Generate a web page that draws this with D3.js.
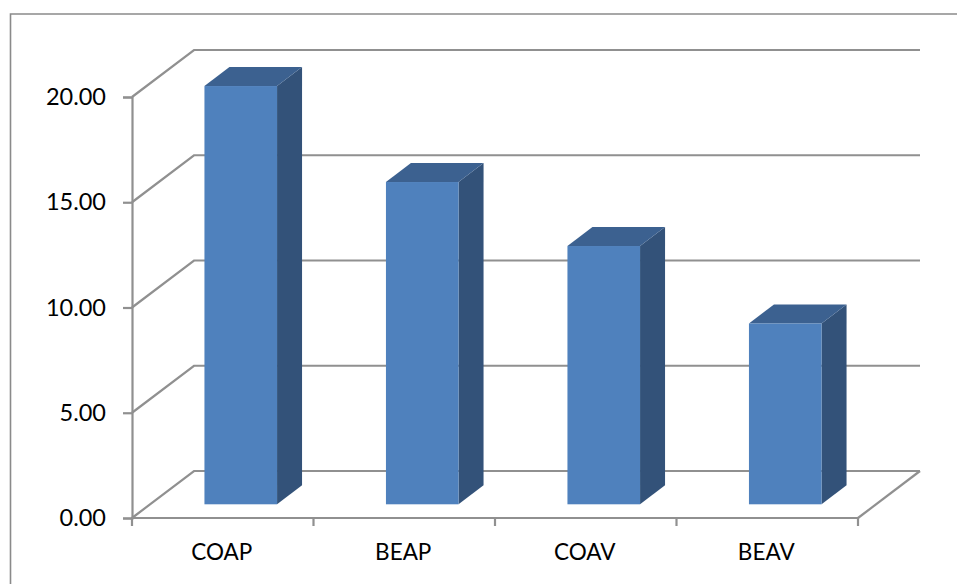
<!DOCTYPE html>
<html>
<head>
<meta charset="utf-8">
<script src="https://cdn.jsdelivr.net/npm/d3@7"></script>
<style>
html,body{margin:0;padding:0;background:#fff;}
svg{display:block;}
text{font-family:Lato,"Open Sans",sans-serif;fill:#000;}
</style>
</head>
<body>
<svg id="chart" width="957" height="584"></svg>
<script>
// Pseudo-3D column chart
const categories = ["COAP", "BEAP", "COAV", "BEAV"];
const values = [19.87, 15.31, 12.27, 8.59];
const yTicks = [0, 5, 10, 15, 20];

const gridColor = "#909090";
const frontColor = "#4f81bd";
const sideColor = "#335279";
const topColor = "#3c6190";

// Floor depth of the plot box and depth of each column
const depth = {dx: 62, dy: -47};
const barInset = {dx: 18, dy: -13.7};
const barDepth = {dx: 25, dy: -19};

const svg = d3.select("#chart");
const x = d3.scaleBand().domain(categories).range([132, 858])
  .paddingInner(0.6).paddingOuter(0.3);
const step = x.step();
const y = d3.scaleLinear().domain([0, 20]).range([518, 97]);

// Outer frame: open at the bottom and running off the right edge
svg.append("path")
  .attr("d", "M10.5,584V14H957")
  .attr("fill", "none").attr("stroke", "#8a8a8a").attr("stroke-width", 1.6);

// Back wall gridlines with their slanted run to the value axis
const grid = svg.append("g").attr("fill", "none")
  .attr("stroke", gridColor).attr("stroke-width", 2.2);
grid.selectAll("path").data(yTicks).join("path")
  .attr("d", d => {
    const x0 = x.range()[0], x1 = x.range()[1];
    return d3.line()([[x0, y(d)], [x0 + depth.dx, y(d) + depth.dy], [x1 + depth.dx, y(d) + depth.dy]]);
  });
// Right edge of the floor
grid.append("path").attr("d", d3.line()([
  [x.range()[1], y(0)], [x.range()[1] + depth.dx, y(0) + depth.dy]
]));

// Value axis
const yAxis = svg.append("g").attr("transform", `translate(${x.range()[0]},0)`)
  .call(d3.axisLeft(y).tickValues(yTicks).tickSize(9).tickPadding(17).tickFormat(d3.format(".2f")));
yAxis.selectAll("line").attr("stroke", gridColor).attr("stroke-width", 2.2);
yAxis.select(".domain").attr("stroke", gridColor).attr("stroke-width", 2.2);
yAxis.selectAll("text").attr("font-size", 23.5).style("font-family", "Lato");

// Category axis: ticks sit between the categories
const xAxisG = svg.append("g").attr("stroke", gridColor).attr("stroke-width", 2.2);
xAxisG.append("line")
  .attr("x1", x.range()[0] - 1).attr("x2", x.range()[1] + 1)
  .attr("y1", y(0)).attr("y2", y(0));
xAxisG.selectAll(".tick").data(d3.range(categories.length + 1)).join("line")
  .attr("class", "tick")
  .attr("x1", i => x.range()[0] + i * step).attr("x2", i => x.range()[0] + i * step)
  .attr("y1", y(0)).attr("y2", y(0) + 8);

svg.append("g").selectAll("text").data(categories).join("text")
  .attr("x", d => x(d) + x.bandwidth() / 2 - 1)
  .attr("y", 560)
  .attr("text-anchor", "middle")
  .attr("font-size", 22.5)
  .text(d => d);

// Columns: side and top faces behind the front face
const bars = svg.append("g").selectAll("g").data(categories.map((c, i) => ({c, v: values[i]}))).join("g");
const left = d => x(d.c) + barInset.dx;
const right = d => left(d) + x.bandwidth();
const base = y(0) + barInset.dy;
const top_ = d => y(d.v) + barInset.dy;

bars.append("path").attr("fill", sideColor)
  .attr("d", d => d3.line()([
    [right(d), top_(d)],
    [right(d) + barDepth.dx, top_(d) + barDepth.dy],
    [right(d) + barDepth.dx, base + barDepth.dy],
    [right(d), base]
  ]) + "Z");
bars.append("path").attr("fill", topColor)
  .attr("d", d => d3.line()([
    [left(d), top_(d)],
    [left(d) + barDepth.dx, top_(d) + barDepth.dy],
    [right(d) + barDepth.dx, top_(d) + barDepth.dy],
    [right(d), top_(d)]
  ]) + "Z");
bars.append("rect").attr("fill", frontColor)
  .attr("x", left).attr("y", top_)
  .attr("width", x.bandwidth())
  .attr("height", d => base - top_(d));
</script>
</body>
</html>
